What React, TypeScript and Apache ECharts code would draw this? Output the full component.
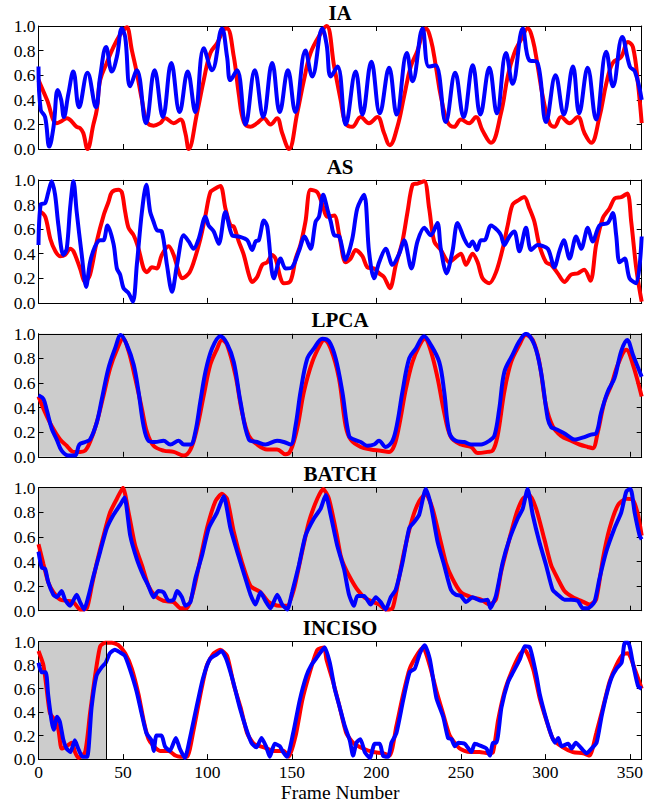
import React, { useEffect, useRef } from "react";
import * as echarts from "echarts";

type P = [number, number];

const PANEL_TITLES = ["IA", "AS", "LPCA", "BATCH", "INCISO"];
const X_TICKS_MAX = 357;
const INCISO_SHADE: [number, number] = [0, 40];

const IA_RED: P[] = [[0,0.56],[5,0.4],[10.8,0.21],[14,0.23],[16.7,0.25],[22.6,0.18],[24.6,0.17],[26.5,0.13],[29,0],[32.5,0.2],[34.5,0.32],[36.5,0.56],[40.4,0.7],[44.4,0.83],[48.3,0.93],[51.3,0.98],[52.3,0.99],[55.3,0.8],[58.2,0.62],[61.2,0.4],[64.2,0.22],[68.1,0.19],[72,0.21],[75,0.25],[80,0.21],[84,0.24],[86.9,0.13],[88.9,0],[93.8,0.29],[97.8,0.56],[101.7,0.78],[105.7,0.86],[109.6,0.97],[111.6,0.98],[115.6,0.75],[118.5,0.45],[121.5,0.22],[125.4,0.18],[129.4,0.21],[133.3,0.25],[137.3,0.2],[141.2,0.25],[144.2,0.13],[148.2,0],[153.1,0.29],[157.1,0.56],[161,0.78],[167,0.94],[170.5,1.0],[175,0.67],[178.8,0.4],[181.8,0.21],[185.7,0.18],[190.7,0.26],[195.6,0.21],[200.6,0.26],[204.5,0.13],[207.9,0.03],[212.4,0.18],[216.4,0.43],[220.3,0.67],[224.3,0.8],[227.3,0.94],[229.2,0.98],[232.2,0.89],[235.2,0.67],[238.1,0.43],[242.1,0.22],[246,0.18],[250,0.24],[254.9,0.21],[258.9,0.26],[262.8,0.15],[267.8,0.05],[273.7,0.29],[277.7,0.59],[281.6,0.78],[285.6,0.89],[289.5,0.98],[292.5,0.89],[295.5,0.67],[298.4,0.43],[302.4,0.21],[305.3,0.18],[309.3,0.26],[314.3,0.21],[319.2,0.26],[323.1,0.13],[327.1,0.05],[332,0.26],[336,0.53],[339.9,0.7],[344.9,0.75],[348.8,0.87],[351.8,0.83],[354.8,0.53],[357,0.21]];
const IA_BLUE: P[] = [[0,0.67],[1.3,0.32],[3.9,0.26],[6.4,0.02],[8.9,0.18],[11.4,0.48],[13.4,0.4],[15,0.26],[17.7,0.45],[20.6,0.63],[24,0.34],[29,0.62],[34,0.34],[36.5,0.59],[40,0.83],[43.4,0.63],[46.4,0.75],[49.3,0.98],[51.3,0.91],[54.3,0.51],[58.2,0.64],[63.6,0.21],[68.7,0.64],[73.6,0.26],[78.6,0.7],[83.5,0.3],[88.3,0.63],[92.8,0.3],[97.8,0.82],[102.7,0.64],[108.6,0.98],[111.6,0.75],[113.6,0.56],[117.5,0.64],[122.5,0.2],[128,0.64],[133,0.26],[138.3,0.7],[142.8,0.3],[147.6,0.64],[152,0.3],[158,0.8],[162,0.59],[168,0.98],[170.5,0.85],[173,0.59],[177,0.67],[181.8,0.2],[187.7,0.63],[191.7,0.28],[197,0.71],[202,0.29],[207.5,0.66],[212,0.28],[218,0.78],[221.4,0.55],[227.3,0.98],[231,0.67],[235,0.68],[241,0.22],[246.6,0.62],[251.6,0.26],[257,0.68],[261.5,0.28],[266.8,0.66],[271.3,0.29],[276.7,0.78],[280.6,0.53],[286.6,0.98],[290.5,0.72],[295,0.71],[300.4,0.22],[306,0.6],[310.9,0.28],[316.3,0.67],[320,0.29],[325,0.66],[330,0.24],[336,0.79],[340,0.51],[345.5,0.91],[350,0.67],[353,0.63],[357,0.4]];

const AS_RED: P[] = [[0,0.74],[1,0.74],[4,0.7],[7,0.52],[10,0.42],[12.8,0.38],[15.7,0.39],[18.7,0.44],[20.7,0.42],[24.6,0.28],[27.6,0.17],[30.5,0.23],[34.5,0.5],[38.5,0.71],[41.4,0.82],[43.4,0.9],[47.3,0.92],[49.3,0.9],[51.3,0.74],[53.3,0.61],[56.3,0.55],[59.2,0.44],[62.2,0.28],[64.2,0.25],[67.1,0.29],[70,0.28],[73,0.39],[77,0.46],[80,0.39],[83,0.25],[85,0.2],[89,0.24],[91.8,0.33],[95.8,0.52],[98.8,0.71],[101.7,0.9],[104.7,0.93],[107.7,0.95],[110.6,0.77],[113.6,0.63],[115.6,0.62],[118.5,0.5],[121.5,0.39],[124.5,0.23],[126.4,0.17],[129.4,0.21],[132.4,0.31],[135.3,0.33],[138.3,0.39],[140.3,0.36],[143.3,0.2],[145.2,0.16],[149.2,0.18],[152.2,0.36],[155,0.47],[158,0.66],[161,0.92],[165,0.9],[168,0.8],[171,0.7],[175,0.71],[178,0.55],[181.7,0.33],[184.7,0.36],[187.7,0.43],[191.7,0.38],[194.6,0.29],[198.6,0.28],[201.6,0.24],[204.5,0.21],[208,0.12],[211.5,0.31],[215.4,0.5],[218.4,0.74],[221.4,0.96],[224.3,0.97],[228.3,0.99],[231.2,0.77],[234.2,0.5],[238.1,0.43],[243.1,0.33],[246,0.36],[250,0.4],[253,0.31],[256.9,0.4],[259.9,0.33],[262.8,0.2],[266.8,0.16],[270.8,0.25],[274.7,0.44],[277.7,0.63],[280.6,0.8],[284.6,0.84],[287.5,0.86],[290.5,0.77],[293.5,0.66],[296.4,0.47],[300.4,0.33],[303.4,0.31],[307.3,0.24],[311.3,0.17],[315.2,0.23],[319.2,0.24],[323,0.27],[326.7,0.18],[330,0.47],[334,0.69],[338,0.77],[341,0.85],[344.9,0.86],[348.5,0.89],[350.8,0.66],[353.8,0.28],[357,0.01]];
const AS_BLUE: P[] = [[0,0.47],[1.3,0.8],[3.9,0.81],[5.8,0.9],[7.8,0.99],[9.8,0.88],[11.8,0.63],[14.7,0.39],[16.7,0.44],[18.7,0.77],[20.7,0.99],[22.6,0.74],[25.6,0.39],[28.2,0.13],[30.5,0.33],[33.5,0.46],[36.5,0.51],[38.5,0.51],[40.8,0.63],[44.4,0.48],[46.4,0.28],[48.3,0.23],[50.3,0.12],[53.3,0.08],[55.9,0.01],[58.2,0.31],[61.2,0.74],[63.8,0.96],[66.1,0.74],[68.1,0.66],[70.1,0.59],[73,0.58],[76,0.31],[79,0.09],[82,0.31],[85.9,0.55],[88.9,0.5],[91.8,0.44],[94.8,0.52],[98.8,0.7],[100.7,0.63],[103.7,0.58],[106.7,0.48],[110.6,0.74],[114.6,0.55],[118.5,0.54],[123.5,0.51],[126.4,0.43],[128.5,0.5],[130.4,0.51],[133.4,0.67],[135.4,0.62],[139.3,0.2],[143.3,0.36],[146.2,0.28],[150.1,0.29],[154.1,0.42],[157.5,0.54],[161,0.44],[164,0.66],[166,0.7],[168.5,0.88],[171,0.76],[173,0.66],[175,0.55],[178,0.54],[181.7,0.35],[185.7,0.52],[188.7,0.77],[192.7,0.88],[195.6,0.42],[198.6,0.2],[201.6,0.33],[205.5,0.44],[209.5,0.31],[213.5,0.4],[216.4,0.51],[220.7,0.28],[224.3,0.5],[228.3,0.61],[232.2,0.55],[236.1,0.65],[238.1,0.44],[241.5,0.24],[245,0.42],[248,0.65],[252,0.52],[254.9,0.46],[256.9,0.5],[259.5,0.43],[261.8,0.51],[264,0.51],[267.8,0.63],[271.7,0.59],[273.7,0.55],[275.7,0.47],[278.7,0.54],[281.6,0.58],[284.6,0.42],[288.5,0.61],[291.5,0.43],[295.4,0.47],[301.4,0.44],[305.3,0.29],[308.3,0.42],[310.9,0.51],[314.3,0.36],[318.2,0.54],[321.2,0.44],[325.1,0.61],[328,0.5],[332,0.63],[336.9,0.65],[339.9,0.73],[341.9,0.55],[343.9,0.33],[346.9,0.36],[349.8,0.2],[353.8,0.16],[357,0.54]];

const LPCA_RED: P[] = [[0,0.49],[3.9,0.36],[7.8,0.25],[12.8,0.14],[16.7,0.09],[20.7,0.04],[24.6,0.04],[27.6,0.05],[30.5,0.12],[34.5,0.28],[38.5,0.5],[42.4,0.72],[46.4,0.87],[50,0.96],[53.3,0.86],[57.2,0.64],[61.2,0.39],[64.2,0.2],[68.1,0.09],[74,0.05],[80,0.04],[86,0.01],[90,0.06],[93.8,0.23],[97.8,0.5],[101.7,0.75],[105.7,0.88],[108.6,0.95],[111.6,0.91],[116.6,0.66],[120.5,0.36],[124.5,0.17],[129.4,0.1],[135.3,0.06],[141.2,0.06],[146.2,0.02],[149.2,0.05],[153.1,0.23],[157.1,0.53],[162,0.77],[167,0.92],[169,0.95],[172.9,0.88],[177.8,0.64],[181.8,0.25],[184.8,0.14],[190.7,0.08],[196.6,0.06],[202.5,0.05],[207.5,0.04],[210.5,0.09],[213.4,0.25],[217.4,0.55],[221.3,0.77],[225.3,0.9],[228.6,0.96],[232.2,0.86],[236.2,0.64],[240.1,0.36],[244.1,0.16],[250,0.1],[256,0.08],[260,0.03],[265.8,0.04],[268.8,0.05],[271.7,0.17],[275.7,0.53],[279.7,0.77],[284.6,0.91],[288.5,0.99],[292.5,0.95],[296.4,0.77],[300.3,0.42],[304.3,0.25],[309.3,0.17],[315.2,0.13],[320.2,0.1],[325.1,0.08],[328,0.07],[331,0.2],[335,0.45],[338.9,0.58],[342.9,0.75],[347.9,0.87],[351.8,0.75],[357,0.49]];
const LPCA_BLUE: P[] = [[0,0.5],[2.9,0.47],[4.9,0.38],[7.8,0.23],[10.8,0.14],[13.7,0.05],[17.7,0.01],[21.6,0.01],[24.2,0.1],[27.6,0.12],[30.5,0.14],[34.5,0.28],[37.5,0.47],[41.4,0.72],[45.3,0.88],[48.7,0.99],[52.3,0.91],[56.3,0.75],[59.2,0.53],[62.2,0.25],[65.1,0.13],[69.1,0.12],[74,0.13],[78,0.1],[83,0.13],[86,0.1],[90,0.1],[92.8,0.2],[95.8,0.45],[98.8,0.69],[102.7,0.88],[107.6,0.98],[111.6,0.92],[115.6,0.77],[119.5,0.45],[124.5,0.14],[129.4,0.12],[134.3,0.1],[141.2,0.13],[145.2,0.12],[149.2,0.1],[152.1,0.25],[155.1,0.53],[159.1,0.8],[163,0.88],[168,0.96],[171.9,0.94],[175.9,0.8],[179.8,0.53],[183.8,0.17],[186.7,0.14],[190.7,0.12],[194.6,0.09],[198.6,0.1],[201.5,0.13],[205.5,0.08],[209.5,0.13],[212.4,0.28],[215.4,0.53],[219.4,0.8],[223.3,0.88],[228.2,0.98],[232.2,0.91],[237.2,0.77],[240.1,0.53],[243.1,0.2],[247,0.13],[252,0.12],[256,0.1],[261.9,0.1],[266.8,0.13],[269.8,0.17],[272.7,0.39],[275.7,0.69],[280.6,0.83],[284.6,0.94],[288.5,1.0],[293.5,0.91],[297.4,0.69],[301.4,0.31],[303.5,0.24],[305.3,0.23],[308.5,0.21],[311.3,0.19],[314.5,0.16],[317.2,0.14],[320.5,0.15],[323.1,0.16],[327,0.18],[330,0.19],[333,0.36],[336.9,0.53],[340.9,0.64],[344.9,0.86],[348.4,0.95],[351.8,0.83],[357,0.65]];

const BATCH_RED: P[] = [[0,0.54],[2.9,0.38],[5.8,0.23],[8.8,0.15],[12.8,0.09],[16.7,0.08],[20.7,0.07],[24.6,0.01],[28.6,0.02],[31.5,0.2],[34.5,0.39],[38.5,0.61],[42.4,0.8],[46.4,0.91],[50,1.0],[53.3,0.8],[57.2,0.53],[61.2,0.37],[65.1,0.2],[69.1,0.12],[74,0.08],[80,0.07],[84,0.02],[87.9,0.02],[91.8,0.17],[95.8,0.42],[99.7,0.67],[104.7,0.89],[108.6,0.95],[111.6,0.91],[115.6,0.64],[120.5,0.39],[125.5,0.2],[131.4,0.15],[136.3,0.07],[142.2,0.04],[147.2,0.04],[151.1,0.17],[155.1,0.42],[160,0.72],[165,0.91],[168.5,0.99],[171.9,0.91],[176.5,0.62],[178.8,0.45],[180.8,0.37],[184.8,0.26],[188.8,0.17],[192.7,0.11],[196.6,0.08],[201.6,0.05],[205.5,0.01],[209.5,0.02],[212.4,0.2],[216.4,0.48],[221.3,0.75],[225.3,0.89],[229.2,0.95],[233.2,0.83],[237.2,0.61],[241.1,0.39],[245,0.26],[250,0.15],[256,0.11],[261.9,0.09],[266.8,0.05],[270.7,0.09],[273.7,0.31],[277.7,0.53],[282.6,0.78],[286.6,0.91],[290.5,0.94],[294.5,0.83],[299.4,0.58],[303.4,0.37],[307.3,0.26],[311.3,0.16],[316.3,0.11],[321.2,0.08],[326.1,0.05],[330,0.09],[334,0.42],[338,0.67],[343,0.86],[347.9,0.91],[351.8,0.9],[354.8,0.78],[357,0.61]];
const BATCH_BLUE: P[] = [[0,0.48],[1.9,0.35],[3.9,0.34],[5.8,0.23],[8.8,0.13],[10.8,0.11],[13.7,0.16],[15.7,0.09],[18.7,0.04],[22.6,0.13],[24.6,0.07],[27,0.01],[29.6,0.12],[32.5,0.28],[36.5,0.48],[40.4,0.67],[44.4,0.78],[48.3,0.86],[50.9,0.92],[54.3,0.61],[58.2,0.42],[62.2,0.28],[65.1,0.2],[68.1,0.11],[71,0.16],[74,0.15],[77,0.08],[80,0.09],[82,0.16],[84.9,0.11],[86.9,0.04],[89.9,0.07],[92.8,0.26],[96.8,0.45],[100.7,0.67],[105.7,0.8],[109.6,0.93],[113.6,0.67],[117.6,0.48],[122.5,0.26],[125.5,0.13],[128.4,0.05],[131.4,0.15],[134.3,0.08],[137.3,0.02],[141.3,0.13],[144.2,0.05],[147.2,0.01],[150.1,0.15],[154.1,0.37],[158,0.61],[163,0.75],[167,0.83],[170,0.94],[172.9,0.78],[176.8,0.53],[180.8,0.34],[183.8,0.13],[186.7,0.04],[188.7,0.12],[192.7,0.12],[196.6,0.05],[199.6,0.11],[202.5,0.07],[205.5,0.01],[208.5,0.11],[211.4,0.17],[215.4,0.39],[219.4,0.67],[222.3,0.72],[225.3,0.78],[229.2,0.99],[232.2,0.86],[236.2,0.56],[240.1,0.37],[244.1,0.17],[247,0.13],[250,0.12],[253,0.07],[256.9,0.11],[261.9,0.08],[265.8,0.09],[267.4,0.02],[270.7,0.12],[274.7,0.39],[278.7,0.58],[283.6,0.75],[286.6,0.83],[289.5,0.99],[292.5,0.78],[296.4,0.56],[300.4,0.37],[304.3,0.17],[307.3,0.13],[311.3,0.09],[315.2,0.09],[319.2,0.08],[322.1,0.02],[325.1,0.02],[329,0.07],[332,0.26],[336,0.48],[340.9,0.67],[344.9,0.8],[347.9,0.97],[350.4,0.99],[352.8,0.8],[355.8,0.61],[357,0.58]];

const INCISO_RED: P[] = [[0,0.92],[2.9,0.8],[4.8,0.6],[6.8,0.39],[9.8,0.33],[11.8,0.25],[13.7,0.09],[16.7,0.11],[19.7,0.14],[21.6,0.06],[23.6,0.01],[27.6,0.06],[30.5,0.39],[33.5,0.71],[36.5,0.96],[39.4,0.99],[43.4,0.99],[47.3,0.97],[51.3,0.9],[55.2,0.77],[59.2,0.55],[62.2,0.33],[65.1,0.17],[68.1,0.11],[72,0.07],[77,0.07],[81,0.03],[83.9,0.02],[87.9,0.02],[91.8,0.25],[95.8,0.55],[99.7,0.8],[103.7,0.9],[107.6,0.93],[111.6,0.88],[115.6,0.63],[119.6,0.44],[123.5,0.22],[127.5,0.13],[133.4,0.1],[139.3,0.07],[145.2,0.07],[148.2,0.02],[152.2,0.2],[156.1,0.5],[160,0.71],[165,0.93],[169,0.95],[170.4,0.85],[174.3,0.66],[178.3,0.44],[182.2,0.22],[186.2,0.14],[192.1,0.09],[198,0.06],[203.9,0.05],[207.9,0.03],[211.8,0.28],[215.8,0.55],[219.7,0.77],[224.6,0.9],[227.6,0.95],[231.5,0.8],[235.5,0.58],[239.4,0.39],[243.4,0.2],[249.3,0.09],[255.2,0.06],[261.1,0.06],[266,0.05],[269,0.06],[272,0.33],[275.9,0.58],[279.9,0.74],[284.8,0.89],[287.7,0.93],[292.7,0.77],[296.6,0.52],[300.6,0.33],[304.5,0.17],[310.4,0.1],[316.3,0.06],[322.3,0.05],[326.2,0.03],[330.1,0.22],[334.1,0.44],[338,0.66],[342,0.8],[345.9,0.89],[348.9,0.9],[352.8,0.77],[357,0.6]];
const INCISO_BLUE: P[] = [[0,0.82],[1.8,0.74],[4.3,0.74],[5.7,0.55],[7.7,0.33],[9,0.25],[11,0.36],[12.6,0.32],[14.6,0.17],[16.6,0.09],[18.9,0.06],[21.5,0.16],[23.5,0.09],[26,0.02],[28.8,0.02],[31.4,0.44],[34.3,0.71],[37.3,0.78],[39.8,0.82],[42.2,0.9],[45.2,0.93],[48.1,0.91],[51.1,0.88],[54,0.77],[58,0.58],[61,0.39],[63.9,0.22],[66.9,0.16],[68.2,0.07],[69.8,0.2],[72.8,0.2],[74.8,0.11],[77.7,0.07],[81.3,0.18],[83.6,0.09],[86.6,0.01],[89.5,0.17],[93.5,0.44],[97.4,0.69],[101.4,0.85],[105.3,0.89],[108.3,0.92],[111.2,0.85],[115.2,0.66],[119.1,0.44],[123.1,0.25],[126,0.14],[129,0.1],[132,0.18],[134.9,0.1],[136.9,0.02],[139.8,0.13],[142.8,0.11],[144.8,0.06],[147.1,0.02],[150.7,0.22],[154.6,0.5],[158.6,0.71],[161.5,0.8],[164.5,0.86],[167.5,0.92],[169.4,0.95],[172.4,0.82],[175.3,0.6],[178.3,0.44],[181.3,0.28],[184.2,0.16],[186.2,0.03],[188.2,0.14],[190.5,0.17],[193.1,0.06],[196.1,0.01],[199,0.13],[202,0.13],[203.9,0.03],[206.9,0.02],[208.9,0.14],[211.8,0.22],[215.8,0.5],[219.7,0.74],[222.7,0.77],[225.7,0.9],[228.6,0.97],[231.6,0.85],[235.5,0.52],[239.5,0.36],[242.4,0.18],[244.4,0.17],[246.4,0.11],[248.4,0.14],[252.3,0.13],[256.2,0.06],[258.2,0.13],[262.2,0.11],[265.1,0.09],[267.1,0.03],[269.1,0.14],[271,0.14],[274,0.44],[278,0.66],[280.9,0.74],[284.9,0.85],[287.8,0.96],[290.8,0.95],[294.7,0.71],[296.7,0.55],[300.7,0.33],[303.6,0.2],[305.6,0.14],[307.6,0.18],[309.5,0.11],[313.5,0.13],[315.5,0.09],[318,0.14],[321.4,0.09],[324.3,0.05],[327.3,0.09],[330.3,0.14],[333.2,0.36],[336.2,0.55],[339.1,0.69],[342.1,0.77],[345.1,0.82],[347,0.99],[349,0.99],[352,0.8],[354.9,0.62],[357,0.6]];

const PANELS: { red: P[]; blue: P[]; smooth: number }[] = [
  { red: IA_RED, blue: IA_BLUE, smooth: 0.4 },
  { red: AS_RED, blue: AS_BLUE, smooth: 0.3 },
  { red: LPCA_RED, blue: LPCA_BLUE, smooth: 0.35 },
  { red: BATCH_RED, blue: BATCH_BLUE, smooth: 0.2 },
  { red: INCISO_RED, blue: INCISO_BLUE, smooth: 0.2 },
];

const FONT = "Liberation Serif";
const GRID_LEFT = 38.5;
const GRID_WIDTH = 603.2;
const GRID_HEIGHT = 123;
const GRID_TOP0 = 26;
const GRID_STEP = 153.9;

export default function App() {
  const ref = useRef<HTMLDivElement>(null);
  useEffect(() => {
    if (!ref.current) return;
    const chart = echarts.init(ref.current, undefined, { renderer: "svg" });
    const grids: any[] = [];
    const xAxes: any[] = [];
    const yAxes: any[] = [];
    const series: any[] = [];
    const graphics: any[] = [];
    PANELS.forEach((p, i) => {
      const top = GRID_TOP0 + GRID_STEP * i;
      const shaded = i === 2 || i === 3;
      grids.push({
        left: GRID_LEFT,
        top,
        width: GRID_WIDTH,
        height: GRID_HEIGHT,
        show: shaded,
        backgroundColor: "#cccccc",
        borderWidth: 0,
      });
      const axLine = { show: true, onZero: false, lineStyle: { color: "#000", width: 1 } };
      const tick = { show: true, inside: true, length: 5, lineStyle: { color: "#000", width: 1 } };
      const last = i === PANELS.length - 1;
      xAxes.push({
        type: "value",
        gridIndex: i,
        position: "bottom",
        min: 0,
        max: X_TICKS_MAX,
        interval: 50,
        axisLine: axLine,
        axisTick: tick,
        splitLine: { show: false },
        axisLabel: {
          show: last,
          margin: 4,
          fontFamily: FONT,
          fontSize: 17.5,
          color: "#000",
          formatter: (v: number) => (v % 50 === 0 ? String(v) : ""),
        },
        name: last ? "Frame Number" : "",
        nameLocation: "middle",
        nameGap: 19,
        nameTextStyle: { fontFamily: FONT, fontSize: 19.5, color: "#000" },
      });
      xAxes.push({
        type: "value",
        gridIndex: i,
        position: "top",
        min: 0,
        max: X_TICKS_MAX,
        interval: 50,
        axisLine: axLine,
        axisTick: tick,
        splitLine: { show: false },
        axisLabel: { show: false },
      });
      yAxes.push({
        type: "value",
        gridIndex: i,
        position: "left",
        min: 0,
        max: 1,
        interval: 0.2,
        axisLine: axLine,
        axisTick: tick,
        splitLine: { show: false },
        axisLabel: {
          margin: 3,
          fontFamily: FONT,
          fontSize: 17.5,
          color: "#000",
          formatter: (v: number) => v.toFixed(1),
        },
      });
      yAxes.push({
        type: "value",
        gridIndex: i,
        position: "right",
        min: 0,
        max: 1,
        interval: 0.2,
        axisLine: axLine,
        axisTick: tick,
        splitLine: { show: false },
        axisLabel: { show: false },
      });
      const redSeries: any = {
        type: "line",
        xAxisIndex: 2 * i,
        yAxisIndex: 2 * i,
        data: p.red,
        showSymbol: false,
        smooth: p.smooth,
        clip: true,
        lineStyle: { color: "#ff0000", width: 4 },
        z: 2,
      };
      if (last) {
        redSeries.markArea = {
          silent: true,
          itemStyle: { color: "#cccccc" },
          data: [[{ xAxis: INCISO_SHADE[0] }, { xAxis: INCISO_SHADE[1] }]],
          z: 0,
        };
        redSeries.markLine = {
          silent: true,
          symbol: "none",
          label: { show: false },
          lineStyle: { color: "#000", width: 1, type: "solid" },
          data: [{ xAxis: INCISO_SHADE[1] }],
        };
      }
      series.push(redSeries);
      series.push({
        type: "line",
        xAxisIndex: 2 * i,
        yAxisIndex: 2 * i,
        data: p.blue,
        showSymbol: false,
        smooth: p.smooth,
        clip: true,
        lineStyle: { color: "#0000ff", width: 4 },
        z: 3,
      });
      graphics.push({
        type: "text",
        x: GRID_LEFT + GRID_WIDTH / 2,
        y: 12.6 + GRID_STEP * i,
        style: {
          text: PANEL_TITLES[i],
          fontFamily: FONT,
          fontWeight: "bold",
          fontSize: 21,
          fill: "#000",
          align: "center",
          verticalAlign: "middle",
        },
      });
    });
    chart.setOption({
      animation: false,
      backgroundColor: "#ffffff",
      grid: grids,
      xAxis: xAxes,
      yAxis: yAxes,
      series,
      graphic: graphics,
    });
    return () => chart.dispose();
  }, []);
  return (
    <div
      ref={ref}
      style={{ position: "fixed", left: 0, top: 0, width: 651, height: 803, background: "#fff" }}
    />
  );
}
